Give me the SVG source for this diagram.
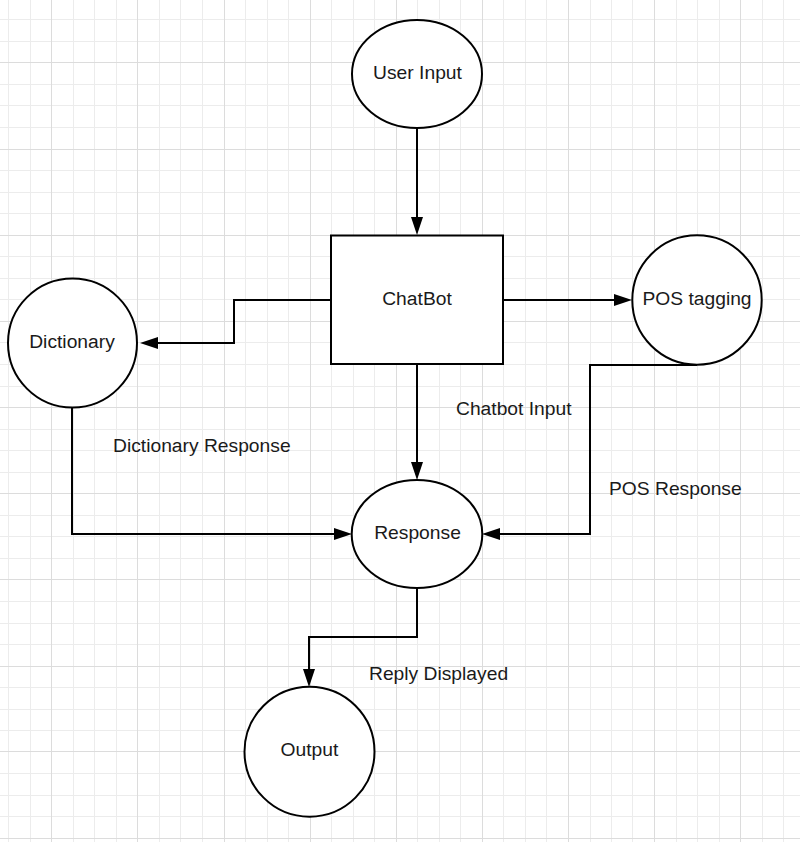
<svg xmlns="http://www.w3.org/2000/svg" width="800" height="842" viewBox="0 0 800 842">
<style>
.minor{stroke:#ececec;stroke-width:1;fill:none}
.major{stroke:#dcdcdc;stroke-width:1;fill:none}
.shape{fill:#fff;stroke:#000;stroke-width:2}
.conn{fill:none;stroke:#000;stroke-width:2;marker-end:url(#arrow)}
.lbl{font-family:"Liberation Sans",Arial,sans-serif;font-size:19.25px;fill:#1a1a1a}
.mid{text-anchor:middle}
</style>
<defs>
<marker id="arrow" markerUnits="userSpaceOnUse" markerWidth="18" markerHeight="12" refX="2" refY="6" orient="auto">
<path d="M0,0 L18,6 L0,12 z" fill="#000"/>
</marker>
</defs>
<rect x="0" y="0" width="800" height="842" fill="#fff"/>
<g id="grid">
<path class="minor" d="M8.5 0V842M30.5 0V842M73.5 0V842M94.5 0V842M116.5 0V842M159.5 0V842M180.5 0V842M202.5 0V842M245.5 0V842M267.5 0V842M288.5 0V842M331.5 0V842M353.5 0V842M374.5 0V842M417.5 0V842M439.5 0V842M460.5 0V842M503.5 0V842M525.5 0V842M546.5 0V842M590.5 0V842M611.5 0V842M632.5 0V842M676.5 0V842M697.5 0V842M719.5 0V842M762.5 0V842M783.5 0V842
M0 19.5H800M0 41.5H800M0 84.5H800M0 105.5H800M0 127.5H800M0 170.5H800M0 192.5H800M0 213.5H800M0 256.5H800M0 278.5H800M0 299.5H800M0 342.5H800M0 364.5H800M0 386.5H800M0 429.5H800M0 450.5H800M0 472.5H800M0 515.5H800M0 536.5H800M0 558.5H800M0 601.5H800M0 623.5H800M0 644.5H800M0 687.5H800M0 709.5H800M0 730.5H800M0 773.5H800M0 795.5H800M0 816.5H800"/>
<path class="major" d="M51.5 0V842M137.5 0V842M224.5 0V842M310.5 0V842M396.5 0V842M482.5 0V842M568.5 0V842M654.5 0V842M740.5 0V842
M0 62.5H800M0 149.5H800M0 235.5H800M0 321.5H800M0 407.5H800M0 493.5H800M0 579.5H800M0 666.5H800M0 751.5H800M0 838.5H800"/>
</g>
<g id="connectors">
<path id="c-user-chatbot" class="conn" d="M417 128V219"/>
<path id="c-chatbot-dictionary" class="conn" d="M331 300H234V343H156"/>
<path id="c-chatbot-pos" class="conn" d="M503 300H616"/>
<path id="c-chatbot-response" class="conn" d="M417 364V464"/>
<path id="c-dictionary-response" class="conn" d="M72 407V534H336"/>
<path id="c-pos-response" class="conn" d="M697 365H590V534H498"/>
<path id="c-response-output" class="conn" d="M417 588V637H309V671"/>
<text class="lbl" x="456" y="415">Chatbot Input</text>
<text class="lbl" x="113" y="451.5">Dictionary Response</text>
<text class="lbl" x="609" y="494.5">POS Response</text>
<text class="lbl" x="369" y="680">Reply Displayed</text>
</g>
<g id="user-input">
<ellipse class="shape" cx="417" cy="74" rx="65" ry="54"/>
<text class="lbl mid" x="417.5" y="78.5">User Input</text>
</g>
<g id="chatbot">
<rect class="shape" x="331" y="235.5" width="172" height="128.5"/>
<text class="lbl mid" x="417" y="305">ChatBot</text>
</g>
<g id="dictionary">
<circle class="shape" cx="72.5" cy="343" r="64.5"/>
<text class="lbl mid" x="72" y="348">Dictionary</text>
</g>
<g id="pos-tagging">
<circle class="shape" cx="697" cy="300" r="64.7"/>
<text class="lbl mid" x="697" y="304.5">POS tagging</text>
</g>
<g id="response">
<ellipse class="shape" cx="417" cy="534" rx="65.3" ry="54"/>
<text class="lbl mid" x="417.5" y="538.5">Response</text>
</g>
<g id="output">
<circle class="shape" cx="309.5" cy="751.7" r="65"/>
<text class="lbl mid" x="309.5" y="756">Output</text>
</g>
</svg>
